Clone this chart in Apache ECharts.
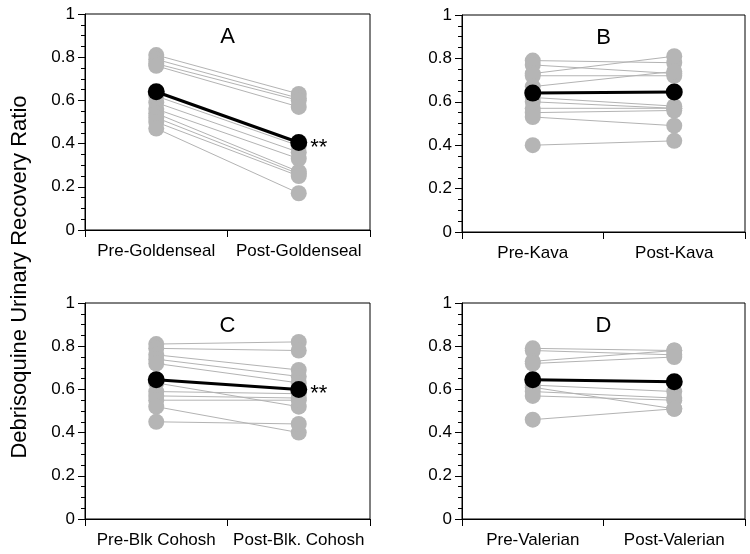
<!DOCTYPE html>
<html>
<head>
<meta charset="utf-8">
<script src="https://cdn.jsdelivr.net/npm/echarts@6/dist/echarts.min.js"></script>
<style>html,body{margin:0;padding:0;background:#fff;}#chart{width:750px;height:554px;}</style>
</head>
<body>
<div id="chart"></div>
<script>
// ---- Data ----
const yAxisTitle = 'Debrisoquine Urinary Recovery Ratio';
const panelLetters = ['A', 'B', 'C', 'D'];

const categoriesA = ['Pre-Goldenseal', 'Post-Goldenseal'];
const preA  = [0.81, 0.79, 0.77, 0.76, 0.62, 0.59, 0.56, 0.54, 0.52, 0.50, 0.47];
const postA = [0.63, 0.61, 0.60, 0.57, 0.39, 0.36, 0.33, 0.27, 0.26, 0.25, 0.17];
const meanA = [0.64, 0.405];

const categoriesB = ['Pre-Kava', 'Post-Kava'];
const preB  = [0.79, 0.77, 0.73, 0.72, 0.67, 0.62, 0.60, 0.57, 0.55, 0.53, 0.40];
const postB = [0.78, 0.73, 0.81, 0.72, 0.74, 0.58, 0.57, 0.57, 0.56, 0.49, 0.42];
const meanB = [0.64, 0.645];

const categoriesC = ['Pre-Blk Cohosh', 'Post-Blk. Cohosh'];
const preC  = [0.81, 0.79, 0.76, 0.74, 0.72, 0.63, 0.59, 0.57, 0.55, 0.52, 0.45];
const postC = [0.82, 0.78, 0.69, 0.66, 0.63, 0.52, 0.58, 0.56, 0.55, 0.40, 0.44];
const meanC = [0.645, 0.60];

const categoriesD = ['Pre-Valerian', 'Post-Valerian'];
const preD  = [0.79, 0.78, 0.73, 0.72, 0.62, 0.61, 0.59, 0.57, 0.46];
const postD = [0.78, 0.76, 0.78, 0.75, 0.59, 0.51, 0.56, 0.55, 0.51];
const meanD = [0.645, 0.635];

const significance = ['**', '', '**', ''];

const yTicks = { min: 0, max: 1, interval: 0.2 };

// ---- Layout (styles) ----
const grids = [
  { left: 85,  top: 14,  width: 285, height: 216 },
  { left: 462, top: 15,  width: 283, height: 217 },
  { left: 85,  top: 303, width: 285, height: 216 },
  { left: 462, top: 303, width: 283, height: 216 }
];
const panels = [
  { cats: categoriesA, pre: preA, post: postA, mean: meanA },
  { cats: categoriesB, pre: preB, post: postB, mean: meanB },
  { cats: categoriesC, pre: preC, post: postC, mean: meanC },
  { cats: categoriesD, pre: preD, post: postD, mean: meanD }
];

const FONT = '"Liberation Sans", Arial, Helvetica, sans-serif';
const GRAY_DOT = '#b5b5b5';
const GRAY_LINE = '#b3b3b3';

const option = {
  animation: false,
  backgroundColor: '#fff',
  textStyle: { fontFamily: FONT },
  grid: grids.map(g => Object.assign({ show: true, borderColor: '#000', borderWidth: 1, containLabel: false }, g)),
  title: panels.map((p, i) => ({
    text: panelLetters[i],
    left: grids[i].left + grids[i].width / 2,
    top: grids[i].top + 12,
    padding: 0,
    textAlign: 'center',
    textStyle: { fontFamily: FONT, fontSize: 22, fontWeight: 'normal', color: '#000' }
  })),
  xAxis: panels.map((p, i) => ({
    type: 'category',
    gridIndex: i,
    data: p.cats,
    boundaryGap: true,
    axisLine: { lineStyle: { color: '#000', width: 1 } },
    axisTick: { show: true, length: 7, lineStyle: { color: '#000' } },
    axisLabel: { fontFamily: FONT, fontSize: 17, color: '#000', margin: 13, interval: 0 },
    splitLine: { show: false }
  })),
  yAxis: panels.map((p, i) => ({
    type: 'value',
    gridIndex: i,
    min: yTicks.min, max: yTicks.max, interval: yTicks.interval,
    axisLine: { show: true, lineStyle: { color: '#000', width: 1 } },
    axisTick: { show: true, length: 7, lineStyle: { color: '#000' } },
    minorTick: { show: true, splitNumber: 4, length: 4, lineStyle: { color: '#000' } },
    axisLabel: { fontFamily: FONT, fontSize: 17, color: '#000', margin: 10 },
    splitLine: { show: false },
    minorSplitLine: { show: false }
  })),
  graphic: [{
    type: 'text',
    x: 20, y: 277,
    rotation: Math.PI / 2,
    style: {
      text: yAxisTitle,
      font: '22px ' + FONT,
      fill: '#000',
      align: 'center',
      verticalAlign: 'middle'
    }
  }],
  series: []
};

panels.forEach((p, i) => {
  // subject lines
  p.pre.forEach((v, k) => {
    option.series.push({
      type: 'line', xAxisIndex: i, yAxisIndex: i,
      data: [v, p.post[k]],
      symbol: 'none',
      lineStyle: { color: GRAY_LINE, width: 1 },
      z: 2, silent: true
    });
  });
  // subject dots
  const pts = [];
  p.pre.forEach((v, k) => { pts.push([0, v]); pts.push([1, p.post[k]]); });
  option.series.push({
    type: 'scatter', xAxisIndex: i, yAxisIndex: i,
    data: pts, symbol: 'circle', symbolSize: 16,
    itemStyle: { color: GRAY_DOT, opacity: 1 },
    z: 3, silent: true
  });
  // mean
  option.series.push({
    type: 'line', xAxisIndex: i, yAxisIndex: i,
    data: [
      { value: p.mean[0] },
      { value: p.mean[1], label: { show: !!significance[i], formatter: significance[i] } }
    ],
    symbol: 'circle', symbolSize: 17, showSymbol: true,
    itemStyle: { color: '#000' },
    lineStyle: { color: '#000', width: 3 },
    label: { show: false, position: 'right', distance: 3, offset: [0, 5], fontFamily: FONT, fontSize: 22, color: '#000' },
    z: 4, silent: true
  });
});

const chart = echarts.init(document.getElementById('chart'));
chart.setOption(option);
</script>
</body>
</html>
